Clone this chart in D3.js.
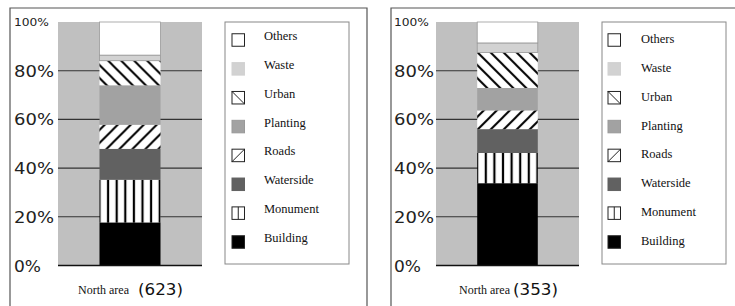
<!DOCTYPE html>
<html>
<head>
<meta charset="utf-8">
<script src="https://cdn.jsdelivr.net/npm/d3@7"></script>
<style>
  body { margin: 0; background: #fff; }
  svg { display: block; }
</style>
</head>
<body>
<div id="chart"></div>
<script>
// land use shares (%), bottom to top
var categories = ["Building", "Monument", "Waterside", "Roads", "Planting", "Urban", "Waste", "Others"];
var northLeft = [17.7, 17.5, 12.7, 9.9, 16.2, 10.1, 2.3, 13.6];
var northRight = [33.8, 12.4, 9.8, 7.7, 9.2, 14.6, 3.9, 8.6];
var panelNames = ["North area", "North area"];
var panelCounts = ["(623)", "(353)"];
var tickValues = [0, 20, 40, 60, 80, 100];

var W = 735, H = 306;
var svg = d3.select("#chart").append("svg")
    .attr("width", W)
    .attr("height", H);
var defs = svg.append("defs");

var fills = {
    Building: "#000",
    Monument: "hatch-v",
    Waterside: "#616161",
    Roads: "hatch-f",
    Planting: "#a2a2a2",
    Urban: "hatch-b",
    Waste: "#d2d2d2",
    Others: "#fff"
};

var y = d3.scaleLinear().domain([0, 100]).range([265.5, 22]);

var panels = [
    { data: northLeft, frameX: 10, frameR: 367, labelX: 14, plotX: 58, plotR: 202, legX: 225, legW: 124, swX: 7, txX: 32, txDy: 0, nameX: 78, countX: 138 },
    { data: northRight, frameX: 391, frameR: 740, labelX: 394, plotX: 436, plotR: 579, legX: 602, legW: 124, swX: 6, txX: 33, txDy: 3, nameX: 459, countX: 513 }
];

function makePatterns(idx, bx) {
    var p = defs.append("pattern")
        .attr("id", "hatch-v-" + idx)
        .attr("patternUnits", "userSpaceOnUse")
        .attr("x", bx).attr("y", 0)
        .attr("width", 8.6).attr("height", 10);
    p.append("rect").attr("width", 8.6).attr("height", 10).attr("fill", "#fff");
    p.append("line").attr("x1", 8.6).attr("x2", 8.6).attr("y1", 0).attr("y2", 10)
        .attr("stroke", "#000").attr("stroke-width", 2.2);
    p.append("line").attr("x1", 0).attr("x2", 0).attr("y1", 0).attr("y2", 10)
        .attr("stroke", "#000").attr("stroke-width", 2.2);

    var b = defs.append("pattern")
        .attr("id", "hatch-b-" + idx)
        .attr("patternUnits", "userSpaceOnUse")
        .attr("x", bx).attr("y", 0)
        .attr("width", 13).attr("height", 13);
    b.append("rect").attr("width", 13).attr("height", 13).attr("fill", "#fff");
    b.append("path").attr("d", "M0,0L13,13M-3,10L3,16M10,-3L16,3")
        .attr("stroke", "#000").attr("stroke-width", 2);

    var f = defs.append("pattern")
        .attr("id", "hatch-f-" + idx)
        .attr("patternUnits", "userSpaceOnUse")
        .attr("x", bx).attr("y", 0)
        .attr("width", 13).attr("height", 13);
    f.append("rect").attr("width", 13).attr("height", 13).attr("fill", "#fff");
    f.append("path").attr("d", "M0,13L13,0M-3,3L3,-3M10,16L16,10")
        .attr("stroke", "#000").attr("stroke-width", 2);
}

function fillFor(cat, idx) {
    var f = fills[cat];
    return f.indexOf("hatch") === 0 ? "url(#" + f + "-" + idx + ")" : f;
}

panels.forEach(function (pn, idx) {
    var g = svg.append("g");

    // frame
    g.append("path")
        .attr("d", "M" + pn.frameX + "," + H + "V8H" + pn.frameR + "V" + H)
        .attr("fill", "none")
        .attr("stroke", "#555")
        .attr("stroke-width", 1.2);

    var x = d3.scaleBand()
        .domain([panelNames[idx]])
        .range([pn.plotX, pn.plotR])
        .paddingOuter(0.68);
    var bx = x(panelNames[idx]), bw = x.bandwidth();

    makePatterns(idx, bx);

    // gray background columns
    g.append("rect")
        .attr("x", pn.plotX).attr("y", y(100))
        .attr("width", pn.plotR - pn.plotX).attr("height", y(0) - y(100))
        .attr("fill", "#c0c0c0");

    // gridlines
    g.selectAll("line.grid")
        .data(tickValues.filter(function (d) { return d > 0 && d < 100; }))
        .enter().append("line")
        .attr("class", "grid")
        .attr("x1", pn.plotX).attr("x2", pn.plotR)
        .attr("y1", function (d) { return y(d); })
        .attr("y2", function (d) { return y(d); })
        .attr("stroke", "#333").attr("stroke-width", 1.1);

    // stacked segments
    var tops = d3.cumsum(pn.data);
    var segs = categories.map(function (c, i) {
        return { cat: c, y0: i ? tops[i - 1] : 0, y1: tops[i] };
    });
    g.selectAll("rect.seg")
        .data(segs)
        .enter().append("rect")
        .attr("class", "seg")
        .attr("x", bx)
        .attr("width", bw)
        .attr("y", function (d) { return y(Math.min(d.y1, 100)); })
        .attr("height", function (d) { return y(d.y0) - y(Math.min(d.y1, 100)); })
        .attr("fill", function (d) { return fillFor(d.cat, idx); })
        .attr("stroke", function (d) { return d.cat === "Others" || d.cat === "Waste" ? "#999" : "none"; })
        .attr("stroke-width", 0.8);

    // baseline
    g.append("line")
        .attr("x1", pn.plotX).attr("x2", pn.plotR)
        .attr("y1", y(0)).attr("y2", y(0))
        .attr("stroke", "#111").attr("stroke-width", 1.3);

    // tick labels
    g.selectAll("text.tick")
        .data(tickValues)
        .enter().append("text")
        .attr("class", "tick")
        .attr("x", pn.labelX)
        .attr("y", function (d) { return d === 100 ? y(d) + 4 : y(d) + 6; })
        .attr("font-family", "'DejaVu Sans', sans-serif")
        .attr("font-size", function (d) { return d === 100 ? 10 : 15; })
        .attr("textLength", function (d) { return d === 100 ? 35 : (d === 0 ? 27 : 40); })
        .attr("lengthAdjust", "spacingAndGlyphs")
        .attr("fill", "#222")
        .text(function (d) { return d + "%"; });

    // bottom caption
    g.append("text")
        .attr("x", pn.nameX).attr("y", 294)
        .attr("font-family", "'Liberation Serif', 'Times New Roman', serif")
        .attr("font-size", 12)
        .attr("fill", "#111")
        .text(panelNames[idx]);
    g.append("text")
        .attr("x", pn.countX).attr("y", 295)
        .attr("font-family", "'DejaVu Sans', sans-serif")
        .attr("font-size", 15)
        .attr("textLength", 45)
        .attr("lengthAdjust", "spacingAndGlyphs")
        .attr("fill", "#111")
        .text(panelCounts[idx]);

    // legend
    var leg = g.append("g").attr("transform", "translate(" + pn.legX + ",22)");
    leg.append("rect")
        .attr("width", pn.legW).attr("height", 242)
        .attr("fill", "#fff").attr("stroke", "#888").attr("stroke-width", 1);

    var items = categories.slice().reverse();
    var ly = d3.scalePoint().domain(items).range([17, 219]);
    var it = leg.selectAll("g.item")
        .data(items)
        .enter().append("g")
        .attr("class", "item")
        .attr("transform", function (d) { return "translate(" + pn.swX + "," + ly(d) + ")"; });

    var sw = 12.5;
    it.append("rect")
        .attr("x", 0).attr("y", -sw / 2 + 1)
        .attr("width", sw).attr("height", sw)
        .attr("fill", function (d) { return fills[d].indexOf("hatch") === 0 ? "#fff" : fills[d]; })
        .attr("stroke", function (d) {
            if (d === "Waste") return "#d2d2d2";
            if (d === "Planting") return "#999";
            if (d === "Waterside") return "#616161";
            return "#222";
        })
        .attr("stroke-width", 1);
    it.filter(function (d) { return d === "Urban"; }).append("line")
        .attr("x1", 0).attr("y1", -sw / 2 + 1).attr("x2", sw).attr("y2", sw / 2 + 1)
        .attr("stroke", "#222");
    it.filter(function (d) { return d === "Roads"; }).append("line")
        .attr("x1", 0).attr("y1", sw / 2 + 1).attr("x2", sw).attr("y2", -sw / 2 + 1)
        .attr("stroke", "#222");
    it.filter(function (d) { return d === "Monument"; }).append("line")
        .attr("x1", sw / 2).attr("y1", -sw / 2 + 1).attr("x2", sw / 2).attr("y2", sw / 2 + 1)
        .attr("stroke", "#222");

    it.append("text")
        .attr("x", pn.txX)
        .attr("y", 1 + pn.txDy)
        .attr("font-family", "'Liberation Serif', 'Times New Roman', serif")
        .attr("font-size", 12.5)
        .attr("fill", "#111")
        .text(function (d) { return d; });
});
</script>
</body>
</html>
